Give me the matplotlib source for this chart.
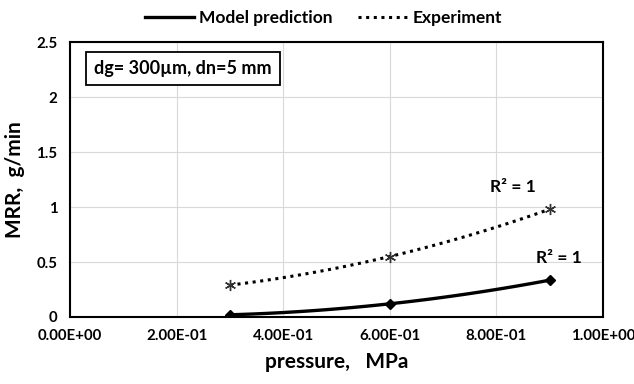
import numpy as np
import matplotlib.pyplot as plt

plt.rcParams['font.family'] = ['Lato', 'DejaVu Sans']
plt.rcParams['font.weight'] = 'bold'

pressure = [0.3, 0.6, 0.9]
mrr_model = [0.02, 0.12, 0.335]
mrr_exp = [0.29, 0.55, 0.98]

x_ticks = [0.0, 0.2, 0.4, 0.6, 0.8, 1.0]
y_ticks = [0, 0.5, 1, 1.5, 2, 2.5]

fig = plt.figure(figsize=(6.34, 3.84), dpi=100)
ax = fig.add_axes([0.1104, 0.1745, 0.8407, 0.716])

# polynomial trendlines (order 2) through the points
xs = np.linspace(pressure[0], pressure[-1], 100)
p_model = np.polyfit(pressure, mrr_model, 2)
p_exp = np.polyfit(pressure, mrr_exp, 2)

ax.plot(xs, np.polyval(p_model, xs), color='black', lw=2.4, label='Model prediction', zorder=3)
ax.plot(xs, np.polyval(p_exp, xs), color='black', lw=2.2, ls=(0, (1, 1.5)), label='Experiment', zorder=3)
ax.plot(pressure, mrr_model, ls='none', marker='D', ms=5, color='black', zorder=4)
ax.plot(pressure, mrr_exp, ls='none', marker=(6, 2, 0), ms=8, mew=1, color='#333333', zorder=4)

ax.set_xlim(0, 1.0)
ax.set_ylim(0, 2.5)
ax.set_xticks(x_ticks)
ax.set_xticklabels(['%.2E' % v for v in x_ticks])
ax.set_yticks(y_ticks)
ax.set_yticklabels(['0', '0.5', '1', '1.5', '2', '2.5'])
ax.tick_params(length=0, labelsize=10.8, pad=9)
ax.grid(color='#d9d9d9', lw=0.8)
ax.set_axisbelow(True)
for s in ax.spines.values():
    s.set_linewidth(1.5)

ax.set_xlabel('pressure,   MPa', fontsize=15, fontweight='bold', labelpad=6)
ax.set_ylabel('MRR,  g/min', fontsize=15, fontweight='bold', labelpad=8)

ax.text(0.045, 2.26, 'dg= 300µm, dn=5 mm', fontsize=13, fontweight='bold', va='center',
        bbox=dict(boxstyle='square,pad=0.45', fc='white', ec='black', lw=1.3))
ax.text(0.831, 1.18, 'R² = 1', fontsize=12.5, fontweight='bold', ha='center', va='center')
ax.text(0.917, 0.54, 'R² = 1', fontsize=12.5, fontweight='bold', ha='center', va='center')

fig.legend(loc='upper center', bbox_to_anchor=(0.51, 1.015), ncol=2, frameon=False,
           fontsize=12.5, handlelength=2.8, columnspacing=1.5, handletextpad=0.3)

fig.savefig('out.png', dpi=100)
